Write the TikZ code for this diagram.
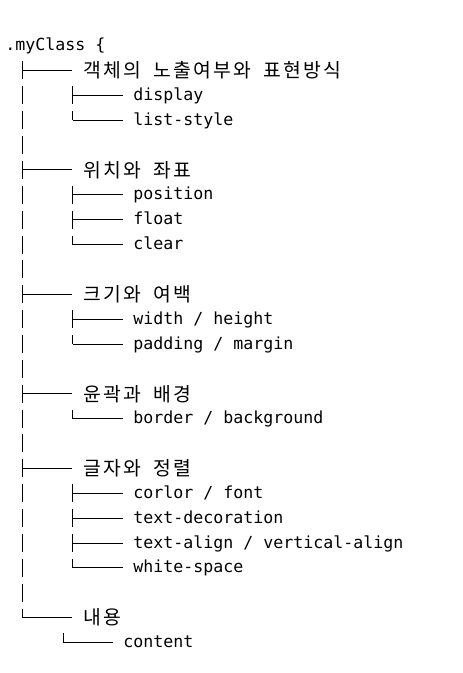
\documentclass[tikz,border=0pt]{standalone}
\usepackage{fontspec}
\setmonofont{DejaVu Sans Mono}
\newfontfamily\krfont{Noto Sans CJK KR}
\newcommand\kcell[1]{\makebox[15pt][c]{#1}}
\def\kwloop#1{\ifx\relax#1\else\kcell{#1}\expandafter\kwloop\fi}
\newcommand\kw[1]{\kwloop#1\relax}
\newcommand\ksp{\hspace*{7.5pt}}
\begin{document}
\begin{tikzpicture}[x=0.75pt,y=-0.75pt,
  treeline/.style={line width=0.75pt, black},
  vbar/.style={treeline, dash pattern=on 13.5pt off 5.15pt},
  lat/.style={anchor=west, inner xsep=7.5pt, inner ysep=0pt,
    font=\ttfamily\fontsize{12.46pt}{15pt}\selectfont,
    text height=9.5pt, text depth=2pt},
  kor/.style={anchor=west, inner xsep=7.5pt, inner ysep=0pt,
    font=\krfont\fontsize{14.5pt}{17pt}\selectfont,
    text height=12.8pt, text depth=1.8pt}]
\useasboundingbox (0,0) rectangle (462,673);
\fill[white] (0,0) rectangle (462,673);

% root
\node[lat, inner xsep=0pt] (root) at (5,45.6) {.myClass \{};

% level 1
\node[kor] (a) at (72,70.47)  {\kw{객체의}\ksp\kw{노출여부와}\ksp\kw{표현방식}};
\node[kor] (b) at (72,169.95) {\kw{위치와}\ksp\kw{좌표}};
\node[kor] (c) at (72,294.3)  {\kw{크기와}\ksp\kw{여백}};
\node[kor] (d) at (72,393.78) {\kw{윤곽과}\ksp\kw{배경}};
\node[kor] (e) at (72,468.39) {\kw{글자와}\ksp\kw{정렬}};
\node[kor] (f) at (72,617.61) {\kw{내용}};

% level 2
\node[lat] (a1) at (123,95.34)  {display};
\node[lat] (a2) at (123,120.21) {list-style};
\node[lat] (b1) at (123,194.82) {position};
\node[lat] (b2) at (123,219.69) {float};
\node[lat] (b3) at (123,244.56) {clear};
\node[lat] (c1) at (123,319.17) {width / height};
\node[lat] (c2) at (123,344.04) {padding / margin};
\node[lat] (d1) at (123,418.65) {border / background};
\node[lat] (e1) at (123,493.26) {corlor / font};
\node[lat] (e2) at (123,518.13) {text-decoration};
\node[lat] (e3) at (123,543.0)  {text-align / vertical-align};
\node[lat] (e4) at (123,567.87) {white-space};
\node[lat] (f1) at (113,642.48) {content};

% main trunk
\coordinate (top) at (22.5,61.47);
\draw[vbar] (top) -- (top |- f.west);
\foreach \n in {a,b,c,d,e,f} \draw[treeline] (top |- \n.west) -- (\n.west);

% sub trunks
\coordinate (ga) at (72.5,86.34);
\coordinate (gb) at (72.5,185.82);
\coordinate (gc) at (72.5,310.17);
\coordinate (gd) at (72.5,409.65);
\coordinate (ge) at (72.5,484.26);
\coordinate (gf) at (63,633.48);
\draw[vbar] (ga) -- (ga |- a2.west);
\draw[vbar] (gb) -- (gb |- b3.west);
\draw[vbar] (gc) -- (gc |- c2.west);
\draw[vbar] (gd) -- (gd |- d1.west);
\draw[vbar] (ge) -- (ge |- e4.west);
\draw[vbar] (gf) -- (gf |- f1.west);
\foreach \g/\n in {ga/a1,ga/a2,gb/b1,gb/b2,gb/b3,gc/c1,gc/c2,gd/d1,ge/e1,ge/e2,ge/e3,ge/e4,gf/f1}
  \draw[treeline] (\g |- \n.west) -- (\n.west);
\end{tikzpicture}
\end{document}
